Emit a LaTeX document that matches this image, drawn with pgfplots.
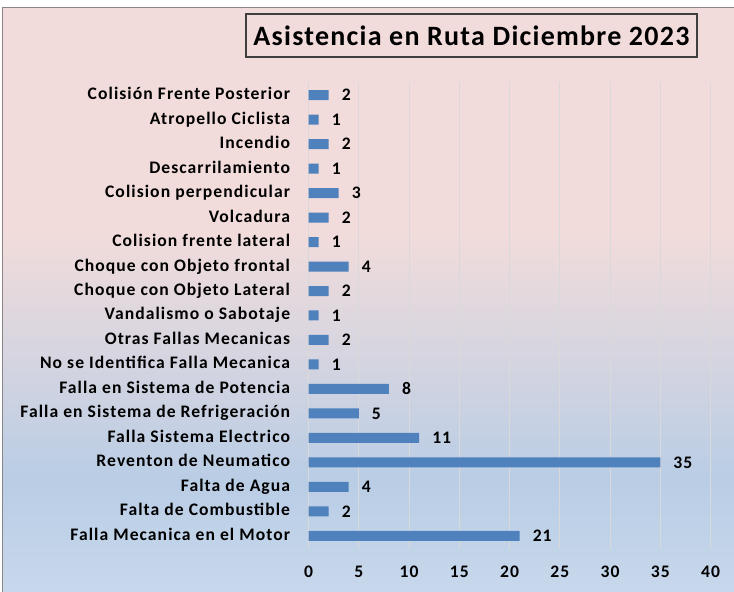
\documentclass[border=0pt]{standalone}
\usepackage{fontspec}
\setmainfont{Carlito}
\usepackage{pgfplots}
\usepackage{pgfplotstable}
\pgfplotsset{compat=1.18}
\definecolor{bgpink}{HTML}{F2DCDB}
\definecolor{bgblue}{HTML}{B9CDE5}
\definecolor{bgbot}{HTML}{C8D8EC}
\definecolor{barc}{HTML}{4F81BD}
\definecolor{gridc}{HTML}{D9D9D9}
\definecolor{framec}{HTML}{8C8484}
\definecolor{titlec}{HTML}{3F3F3F}
\newcommand\lab{\fontsize{17.6bp}{20bp}\selectfont\bfseries\addfontfeature{LetterSpace=6}}
\newcommand\ttl{\fontsize{28bp}{33bp}\selectfont\bfseries\addfontfeature{LetterSpace=4.5}}
\pgfplotstableread{
i v
0 21
1 2
2 4
3 35
4 11
5 5
6 8
7 1
8 2
9 1
10 2
11 4
12 1
13 2
14 3
15 1
16 2
17 1
18 2
}\data
\begin{document}
\begin{tikzpicture}[x=1bp,y=1bp]
\useasboundingbox (0,0) rectangle (734,592);
\clip (0,0) rectangle (734,592);
\fill[white] (0,0) rectangle (734,592);
\shade[bottom color=bgbot, top color=bgblue, draw=none] (2.3,0) rectangle (740,112);
\shade[bottom color=bgblue, top color=bgpink, draw=none] (2.3,111.5) rectangle (740,362);
\fill[bgpink] (2.3,361.5) rectangle (740,584.7);
\draw[framec, line width=1.2bp] (2.3,-5) -- (2.3,584.7) -- (740,584.7);
\draw[titlec, line width=1.2bp] (246,535) rectangle (697,578);
\node[inner sep=0, anchor=center] at (471.5,556.5) {\ttl Asistencia en Ruta Diciembre 2023};
\begin{axis}[
  at={(308.5bp,42.7bp)}, anchor=south west,
  scale only axis, width=402bp, height=467.6bp,
  xbar, bar width=10bp,
  xmin=0, xmax=40, ymin=-0.55, ymax=18.55,
  xtick={0,5,...,40},
  ytick={0,...,18},
  yticklabels={Falla Mecanica en el Motor, Falta de Combustible, Falta de Agua, Reventon de Neumatico, Falla Sistema Electrico, Falla en Sistema de Refrigeración, Falla en Sistema de Potencia, No se Identifica Falla Mecanica, Otras Fallas Mecanicas, Vandalismo o Sabotaje, Choque con Objeto Lateral\ , Choque con Objeto frontal, Colision frente lateral, Volcadura, Colision perpendicular\ , Descarrilamiento, Incendio, Atropello Ciclista, Colisión Frente Posterior},
  xmajorgrids, major grid style={draw=gridc, line width=1bp},
  axis line style={draw=none}, tick style={draw=none},
  /pgf/number format/assume math mode=true,
  xticklabel style={font=\lab, anchor=center, inner sep=0, yshift=-22.7bp},
  yticklabel style={font=\lab, anchor=base east, inner sep=0, xshift=-14bp, yshift=-4.5bp},
  nodes near coords,
  nodes near coords style={font=\lab, anchor=west, inner sep=0, xshift=13bp, text=black},
  clip=false,
]
\addplot[fill=barc, draw=none] table[x=v, y=i] {\data};
\end{axis}
\end{tikzpicture}
\end{document}
